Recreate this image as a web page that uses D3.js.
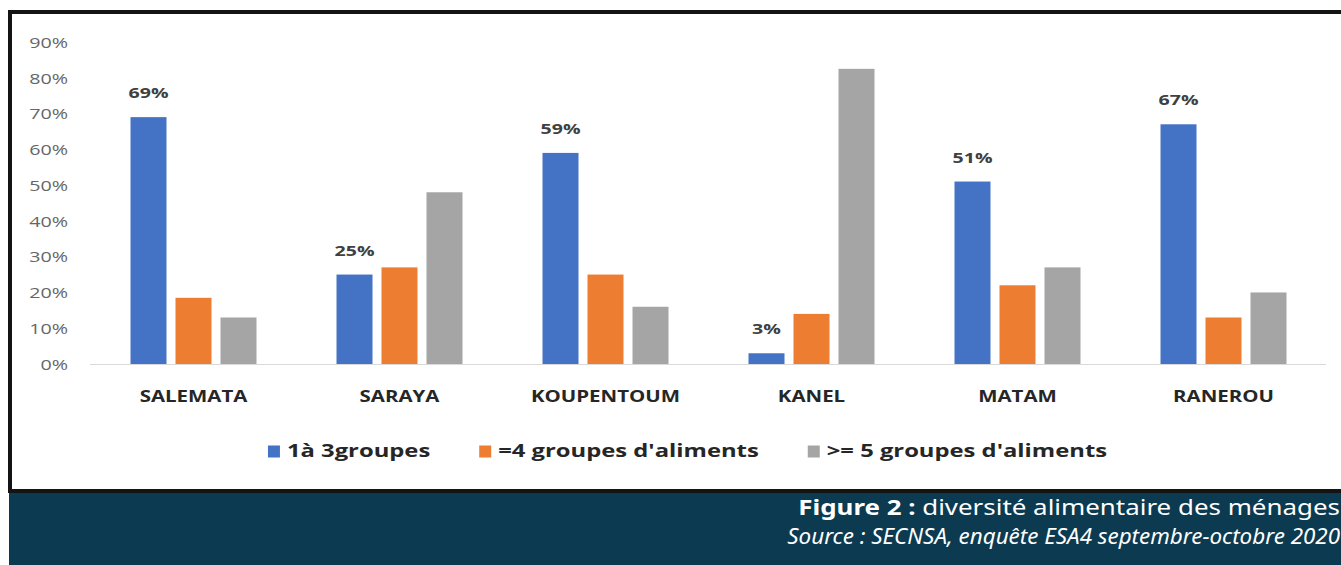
<!DOCTYPE html>
<html><head><meta charset="utf-8">
<script src="https://cdn.jsdelivr.net/npm/d3@7"></script>
<style>body{margin:0;background:#fff;overflow:hidden} svg{display:block}</style>
</head><body>
<svg id="c" width="1341" height="565"></svg>
<script>
// ---- data ----
const categories = ["SALEMATA","SARAYA","KOUPENTOUM","KANEL","MATAM","RANEROU"];
const seriesNames = ["1à 3groupes","=4 groupes d'aliments",">= 5 groupes d'aliments"];
const serie1 = [69, 25, 59, 3, 51, 67];       // 1à 3groupes
const serie2 = [18.5, 27, 25, 14, 22, 13];    // =4 groupes d'aliments
const serie3 = [13, 48, 16, 82.5, 27, 20];    // >= 5 groupes d'aliments
const yTickValues = [0,10,20,30,40,50,60,70,80,90];
const yTickLabels = ["0%","10%","20%","30%","40%","50%","60%","70%","80%","90%"];
const labelledSeries = 0; // only first series carries data labels
const captionBold = "Figure 2 :";
const captionText = " diversité alimentaire des ménages";
const sourceText = "Source : SECNSA, enquête ESA4 septembre-octobre 2020";

const colors = ["#4472C4","#ED7D31","#A5A5A5"];
const series = [serie1, serie2, serie3];

const svg = d3.select("#c");
const FONT = "'Open Sans', sans-serif";

// frame
svg.append("rect").attr("x",10).attr("y",12).attr("width",1400).attr("height",479)
  .attr("fill","#fff").attr("stroke","#141414").attr("stroke-width",4);
// footer
svg.append("rect").attr("x",9).attr("y",493).attr("width",1340).attr("height",80).attr("fill","#0b3a51");

// scales
const x = d3.scaleBand().domain(categories).range([90.5,1326.5]).paddingInner(0).paddingOuter(0);
const x1 = d3.scaleBand().domain(d3.range(series.length)).range([0,x.bandwidth()]).paddingInner(0.2).paddingOuter(0.889);
const y = d3.scaleLinear().domain([0,90]).range([364,42]);

function stretched(sel, sx){
  sel.each(function(){
    const t = d3.select(this);
    const px = +t.attr("data-x"), py = +t.attr("data-y");
    t.attr("transform",`translate(${px},${py}) scale(${sx},1)`);
  });
}

// y axis labels (no axis line)
const yAxis = d3.axisLeft(y).tickValues(yTickValues).tickFormat((d,i)=>yTickLabels[i]).tickSize(0);
const gy = svg.append("g").attr("transform","translate(68,0)").call(yAxis);
gy.select(".domain").remove();
gy.selectAll("text").attr("x",0).attr("dy","0.36em")
  .attr("font-family",FONT).attr("font-size",14.5).attr("fill","#666")
  .attr("transform","scale(1.36,1)");

// bars
const gBars = svg.append("g");
series.forEach((vals,si)=>{
  gBars.selectAll(null).data(categories).enter().append("rect")
    .attr("x",c=>x(c)+x1(si)).attr("width",x1.bandwidth())
    .attr("y",(c,i)=>y(vals[i])).attr("height",(c,i)=>y(0)-y(vals[i]))
    .attr("fill",colors[si]);
});

// baseline
svg.append("line").attr("x1",90).attr("x2",1326).attr("y1",y(0)+0.5).attr("y2",y(0)+0.5)
  .attr("stroke","#d9d9d9").attr("stroke-width",1);

// data labels
const lab = series[labelledSeries];
svg.append("g").selectAll("text").data(categories).enter().append("text")
  .attr("data-x",c=>x(c)+x1(labelledSeries)+x1.bandwidth()/2)
  .attr("data-y",(c,i)=>y(lab[i])-19)
  .attr("text-anchor","middle").attr("font-family",FONT).attr("font-weight",700)
  .attr("font-size",14.5).attr("fill","#404040")
  .text((c,i)=>d3.format(".0f")(lab[i])+"%")
  .call(stretched,1.35);

// category labels
svg.append("g").selectAll("text").data(categories).enter().append("text")
  .attr("data-x",c=>x(c)+x.bandwidth()/2).attr("data-y",402)
  .attr("text-anchor","middle").attr("font-family",FONT).attr("font-weight",700)
  .attr("font-size",15.5).attr("fill","#262626")
  .text(c=>c).call(stretched,1.32);

// legend
const LSX = 1.36, SQ = 12, GAPT = 7, GAPI = 49;
const lg = svg.append("g");
const items = lg.selectAll("g").data(seriesNames).enter().append("g");
items.append("rect").attr("width",SQ).attr("height",SQ).attr("y",-SQ+0.5).attr("fill",(d,i)=>colors[i]);
items.append("text").attr("font-family",FONT).attr("font-weight",700).attr("font-size",17.5)
  .attr("fill","#262626").attr("transform",`translate(${SQ+GAPT},0) scale(${LSX},1)`).text(d=>d);
let cur = 0;
items.each(function(){
  const w = SQ+GAPT+d3.select(this).select("text").node().getComputedTextLength()*LSX;
  d3.select(this).attr("data-off",cur); cur += w + GAPI;
});
const total = cur - GAPI;
const lx0 = 687.5 - total/2;
items.attr("transform",function(){return `translate(${lx0 + (+d3.select(this).attr("data-off"))},457)`;});

// caption
function fitRight(textSel, rightX, targetW){
  const w = textSel.node().getComputedTextLength();
  const sx = targetW / w;
  textSel.attr("transform",`translate(${rightX},${+textSel.attr("data-y")}) scale(${sx},1)`);
}
const cap1 = svg.append("text").attr("data-y",515).attr("text-anchor","end")
  .attr("font-family","'Noto Sans', sans-serif").attr("font-size",21).attr("fill","#fff");
cap1.append("tspan").attr("font-weight",700).text(captionBold);
cap1.append("tspan").text(captionText);
fitRight(cap1, 1340, 542);
const cap2 = svg.append("text").attr("data-y",544).attr("text-anchor","end")
  .attr("font-family","'Noto Sans', sans-serif").attr("font-size",21).attr("font-style","italic")
  .attr("fill","#fff").text(sourceText);
fitRight(cap2, 1340, 553);
</script>
</body></html>
